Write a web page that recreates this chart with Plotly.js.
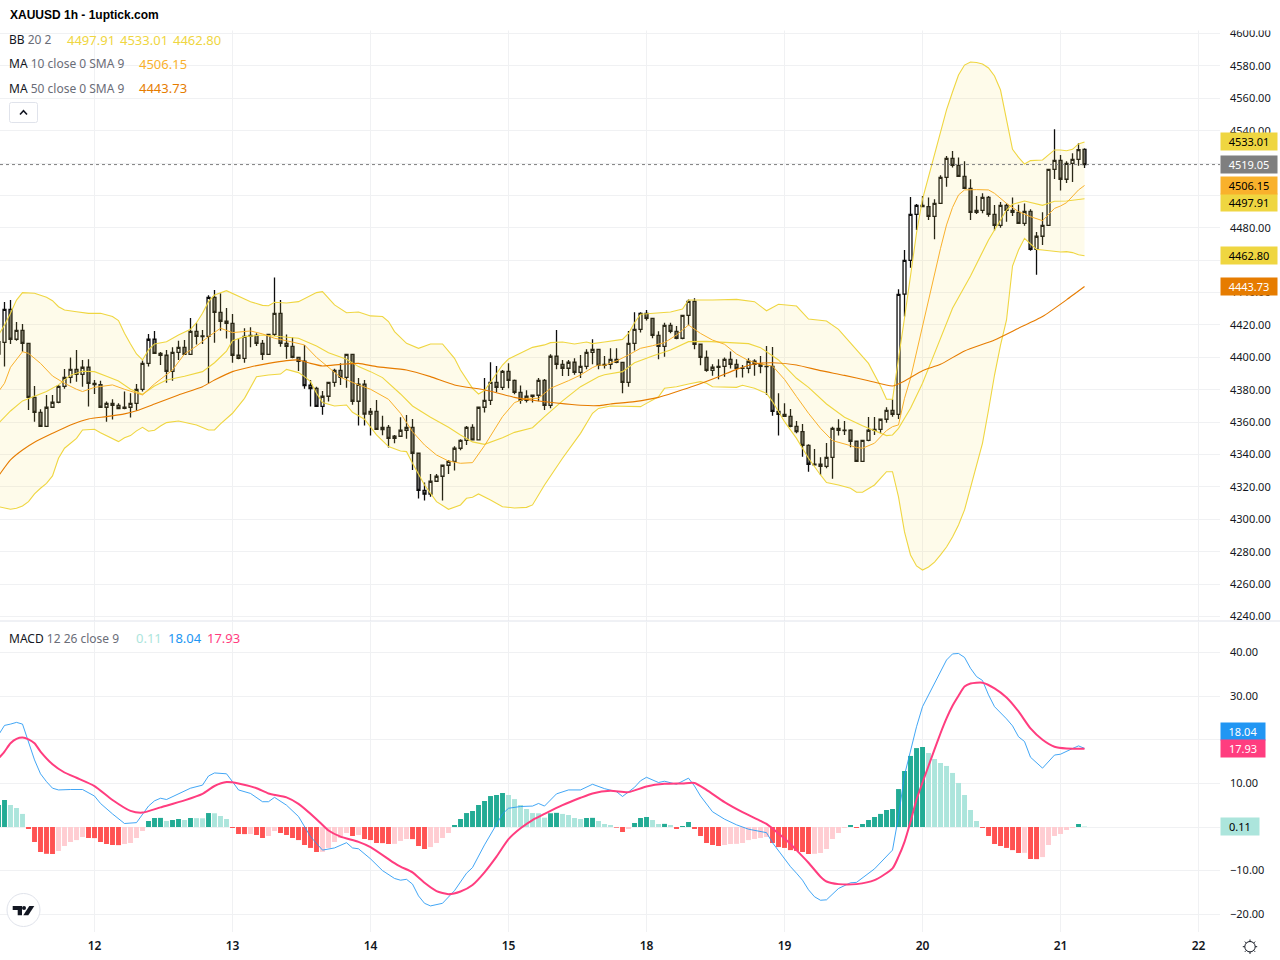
<!DOCTYPE html>
<html><head><meta charset="utf-8">
<script src="https://cdn.plot.ly/plotly-3.0.1.min.js"></script>
<style>html,body{margin:0;padding:0;background:#fff}#chart{width:1280px;height:960px}</style>
</head><body><div id="chart"></div>
<script>
// OHLC, hourly bars. Bar numbers run from -1 (first, partly hidden) to 180 (last).
const firstBar = -1;
const open = [4409.7,
4409.3,4429.7,4411.2,4416.7,4408.7,4375.3,4366.1,4357.4,4369.2,4372.3,
4382.1,4387.7,4392.6,4389.5,4393.9,4384.0,4383.2,4369.2,4371.6,4370.4,
4369.2,4369.2,4371.6,4380.3,4396.3,4411.2,4402.5,4401.3,4391.4,4403.1,
4406.2,4401.9,4416.1,4413.2,4413.0,4437.1,4427.8,4422.3,4421.0,4401.3,
4399.4,4413.6,4413.6,4408.7,4401.9,4414.2,4427.2,4408.7,4406.8,4400.0,
4397.6,4382.8,4380.9,4369.8,4376.0,4384.6,4392.0,4387.7,4401.9,4372.9,
4383.4,4364.9,4366.7,4355.4,4356.8,4350.0,4351.3,4355.0,4356.8,4340.8,
4317.9,4315.5,4323.5,4326.6,4333.4,4335.8,4343.9,4348.8,4356.8,4349.0,
4369.2,4373.5,4384.6,4381.5,4391.4,4385.8,4378.4,4373.5,4376.6,4376.6,
4385.8,4370.4,4400.7,4395.7,4393.3,4397.0,4390.8,4394.5,4403.1,4405.0,
4395.7,4395.7,4398.8,4396.9,4384.6,4408.7,4417.3,4427.2,4424.1,4413.6,
4406.8,4419.8,4416.1,4411.8,4426.0,4434.6,4408.1,4400.0,4392.0,4394.5,
4394.5,4398.8,4395.7,4393.4,4393.2,4397.6,4395.7,4394.5,4394.5,4366.7,
4364.8,4363.6,4357.4,4354.1,4345.7,4334.0,4334.0,4332.7,4338.3,4356.2,
4355.0,4355.0,4348.2,4335.8,4348.8,4355.6,4355.6,4361.8,4367.3,4364.8,
4439.1,4459.9,4488.3,4493.9,4493.1,4487.1,4495.1,4511.2,4522.9,4518.6,
4511.8,4504.4,4489.6,4490.8,4498.8,4488.3,4481.5,4493.9,4490.8,4489.6,
4482.8,4490.2,4466.7,4474.8,4481.5,4516.1,4521.7,4510.0,4519.8,4522.3,4528.5];
const high = [4413.0,
4434.2,4435.4,4421.9,4420.6,4408.7,4382.3,4367.9,4376.8,4376.8,4383.0,
4392.8,4400.0,4404.6,4398.4,4398.8,4386.0,4385.6,4372.7,4374.1,4371.6,
4378.9,4377.8,4383.6,4398.0,4414.5,4416.3,4403.3,4404.6,4406.2,4410.3,
4410.8,4424.3,4421.0,4416.9,4438.3,4441.6,4439.6,4430.5,4426.8,4411.8,
4418.0,4418.6,4414.9,4410.8,4414.2,4449.4,4435.4,4414.2,4412.4,4400.0,
4407.7,4386.0,4381.9,4379.3,4384.6,4393.0,4396.3,4401.9,4401.9,4387.3,
4386.0,4368.8,4373.7,4364.0,4358.3,4352.1,4363.0,4364.4,4362.0,4341.2,
4322.7,4328.0,4328.0,4333.4,4336.7,4345.1,4349.4,4357.6,4358.7,4369.2,
4387.3,4397.0,4394.7,4392.2,4396.3,4386.3,4382.6,4379.7,4376.8,4387.3,
4386.7,4401.9,4416.9,4398.4,4398.4,4399.4,4401.5,4405.0,4411.2,4405.0,
4400.9,4405.6,4405.6,4396.9,4416.3,4427.8,4427.8,4429.3,4424.1,4416.1,
4421.4,4421.4,4419.4,4426.0,4435.8,4436.5,4408.1,4404.2,4395.7,4398.8,
4400.0,4403.7,4398.8,4395.3,4399.4,4398.8,4400.9,4407.0,4406.4,4377.8,
4371.6,4368.1,4360.7,4358.9,4346.3,4343.4,4338.3,4347.1,4357.2,4361.8,
4360.7,4355.6,4348.2,4348.8,4363.2,4363.2,4361.8,4369.2,4374.1,4442.0,
4466.3,4499.0,4494.7,4499.6,4498.8,4497.6,4512.4,4524.4,4527.4,4523.5,
4521.1,4510.0,4499.6,4501.3,4499.6,4494.1,4495.9,4495.1,4498.8,4494.3,
4495.1,4491.4,4477.4,4489.6,4516.1,4540.8,4525.0,4521.1,4526.0,4532.2,4529.1];
const low = [4395.0,
4394.3,4408.3,4410.3,4403.5,4367.5,4360.3,4357.2,4357.2,4369.2,4371.6,
4380.7,4384.0,4385.0,4381.9,4369.6,4377.4,4369.2,4360.3,4361.6,4367.9,
4367.9,4362.8,4367.1,4378.9,4394.3,4402.1,4395.3,4384.4,4385.6,4398.4,
4401.5,4401.9,4407.9,4408.3,4384.0,4409.1,4416.5,4411.6,4396.7,4398.8,
4396.7,4406.2,4407.0,4398.4,4401.9,4413.2,4406.6,4399.2,4399.4,4391.6,
4380.7,4369.6,4369.6,4364.6,4372.7,4381.9,4383.0,4381.3,4370.8,4357.9,
4357.9,4351.7,4355.6,4351.9,4344.3,4346.9,4351.3,4349.8,4330.5,4312.8,
4311.6,4314.0,4323.5,4311.6,4328.0,4330.1,4342.6,4345.9,4348.6,4348.6,
4365.9,4370.6,4378.4,4379.9,4380.9,4377.2,4371.4,4372.1,4372.1,4372.9,
4367.5,4368.6,4392.6,4388.5,4388.5,4389.3,4387.3,4392.6,4395.7,4392.6,
4393.2,4392.6,4396.3,4377.8,4381.9,4404.2,4415.3,4422.7,4411.8,4398.8,
4400.4,4414.9,4411.2,4411.2,4419.8,4405.0,4395.1,4391.2,4388.7,4386.5,
4388.1,4393.2,4387.5,4387.5,4390.2,4388.7,4390.2,4376.8,4364.0,4351.7,
4363.4,4356.8,4353.1,4338.7,4329.4,4333.3,4327.4,4331.5,4325.1,4351.7,
4352.1,4344.5,4335.8,4335.8,4348.2,4352.1,4353.1,4359.7,4363.4,4362.0,
4425.2,4455.4,4478.7,4492.7,4484.8,4472.9,4495.1,4505.4,4517.2,4511.6,
4504.4,4484.8,4488.5,4489.0,4486.9,4478.3,4480.1,4483.8,4487.3,4482.4,
4481.3,4465.9,4451.1,4469.4,4481.5,4510.2,4503.0,4507.7,4508.3,4518.4,4517.0];
const close = [4402.1,
4429.7,4411.2,4416.7,4408.7,4375.3,4366.1,4357.4,4369.2,4372.3,4382.1,
4387.7,4392.6,4389.5,4393.9,4384.0,4383.2,4369.2,4371.6,4370.4,4368.3,
4368.6,4371.6,4380.3,4396.3,4411.2,4402.5,4401.3,4391.4,4403.1,4406.2,
4401.9,4416.1,4413.0,4412.8,4437.1,4427.8,4422.3,4421.0,4401.3,4399.4,
4413.0,4413.0,4408.7,4401.9,4414.2,4427.2,4408.7,4406.8,4400.0,4397.6,
4382.6,4380.7,4369.8,4376.0,4384.6,4392.0,4387.7,4401.9,4372.9,4383.4,
4364.9,4366.7,4355.6,4356.8,4350.0,4351.3,4355.0,4356.8,4340.8,4317.9,
4315.5,4323.5,4326.6,4333.4,4335.8,4343.9,4348.8,4356.8,4349.0,4369.2,
4373.5,4384.6,4381.5,4391.4,4385.8,4378.4,4373.5,4376.0,4376.0,4385.8,
4370.4,4400.7,4395.7,4393.3,4397.0,4390.8,4394.5,4403.1,4405.0,4395.1,
4395.1,4398.8,4396.9,4384.6,4408.7,4417.3,4427.2,4424.1,4413.6,4406.8,
4419.8,4416.1,4411.8,4426.0,4434.6,4408.1,4400.0,4392.0,4393.9,4393.9,
4398.8,4395.7,4393.2,4393.2,4397.6,4395.7,4394.5,4394.3,4366.7,4364.8,
4363.6,4357.4,4354.1,4345.7,4334.0,4333.6,4332.7,4338.3,4356.2,4355.0,
4354.8,4348.2,4335.8,4348.8,4355.0,4355.0,4361.8,4367.3,4364.8,4438.9,
4459.9,4488.3,4493.9,4493.1,4487.1,4495.1,4511.2,4522.9,4518.6,4511.8,
4504.4,4489.6,4490.8,4498.8,4488.3,4481.5,4493.9,4490.8,4489.6,4482.8,
4490.2,4466.7,4474.8,4481.5,4516.1,4521.7,4510.0,4519.8,4522.3,4528.3,4519.05];

// Bollinger upper band: bar numbers and prices read at those bars
const bbUpperBar = [-1,0,1,2,3,5,7,8,9,10,12,14,16,18,19,20,21,22,23,24,25,27,29,31,32,33,34,35,37,39,41,43,44,45,47,49,52,53,54,55,57,59,61,63,64,65,67,69,71,73,75,76,78,79,80,81,82,83,84,86,88,90,91,93,95,97,98,100,102,103,104,105,106,107,109,111,113,114,118,122,125,127,129,132,134,137,139,142,144,146,147,148,149,150,151,152,153,154,155,156,157,158,159,160,161,162,163,164,165,166,167,168,169,170,171,172,173,174,175,176,177,178,179,180];
const bbUpper = [4413.8,4420.0,4427.2,4435.4,4440.0,4439.6,4437.1,4435.0,4431.3,4429.3,4428.2,4427.2,4427.2,4425.2,4422.7,4414.9,4408.3,4402.1,4398.4,4404.6,4408.3,4409.7,4413.8,4417.3,4421.4,4427.2,4434.4,4438.5,4441.2,4437.9,4434.4,4432.1,4431.9,4434.0,4433.6,4434.4,4440.0,4440.6,4436.5,4432.4,4427.6,4428.0,4425.6,4425.2,4422.1,4415.9,4408.7,4405.6,4408.3,4408.3,4399.4,4392.2,4380.9,4377.4,4379.5,4385.0,4390.2,4395.3,4399.0,4402.5,4406.2,4407.7,4409.1,4409.5,4408.3,4409.5,4408.5,4409.5,4410.5,4411.1,4414.8,4421.4,4426.6,4426.8,4427.2,4428.0,4429.9,4435.4,4435.4,4435.8,4434.4,4428.8,4432.8,4431.7,4423.7,4422.5,4417.3,4405.0,4396.3,4382.3,4374.1,4374.1,4398.4,4424.3,4450.3,4476.8,4497.8,4511.4,4526.2,4539.8,4552.8,4563.9,4574.4,4580.5,4582.4,4582.1,4581.2,4578.7,4573.8,4565.1,4547.8,4528.5,4523.5,4519.4,4521.5,4521.7,4521.9,4525.0,4528.1,4528.1,4527.6,4528.5,4531.8,4533.01];
// Bollinger lower band
const bbLowerBar = [-1,0,1,2,3,4,5,6,7,8,9,10,12,13,15,16,18,19,20,21,22,23,24,25,26,27,29,31,32,34,35,36,38,40,42,44,46,47,49,50,51,52,53,55,57,58,60,62,64,66,67,68,70,72,74,76,77,78,79,81,83,85,87,88,90,93,96,98,99,101,103,106,107,109,110,112,114,116,117,118,122,123,125,127,128,130,132,134,136,137,139,141,142,143,145,147,148,149,150,151,152,153,154,155,156,157,158,159,160,161,162,163,164,165,166,167,168,169,170,171,172,173,174,175,176,177,178,179,180];
const bbLower = [4307.8,4307.0,4306.2,4306.8,4308.2,4310.9,4315.7,4319.2,4322.2,4326.8,4337.7,4343.9,4350.0,4355.2,4355.6,4353.5,4350.0,4348.0,4350.4,4351.7,4354.6,4356.8,4354.4,4355.0,4357.6,4359.7,4360.7,4359.3,4358.3,4355.2,4355.2,4358.9,4365.5,4374.7,4388.1,4389.1,4389.7,4392.6,4390.6,4388.1,4385.0,4377.8,4372.1,4370.0,4370.6,4366.1,4361.8,4352.1,4344.9,4342.2,4341.8,4334.6,4321.2,4310.9,4306.2,4308.9,4313.0,4313.6,4315.7,4311.9,4307.8,4307.0,4307.4,4308.9,4321.2,4337.7,4353.1,4365.5,4368.5,4370.0,4370.0,4369.6,4371.6,4375.7,4380.9,4381.9,4383.6,4385.0,4384.0,4381.9,4381.5,4382.8,4380.9,4377.8,4372.7,4360.3,4350.0,4337.7,4327.4,4322.7,4321.2,4319.2,4316.7,4316.7,4321.2,4329.4,4329.4,4313.8,4292.2,4278.0,4271.2,4268.7,4270.6,4273.6,4278.0,4282.9,4289.1,4296.5,4305.8,4319.3,4333.5,4347.1,4367.5,4389.1,4407.6,4423.1,4456.4,4466.3,4473.5,4470.0,4466.7,4466.3,4465.9,4465.3,4465.1,4465.3,4464.7,4463.4,4462.80];
// Bollinger basis
const bbBasisBar = [-1,1,3,5,7,9,11,13,15,17,19,21,23,25,27,30,33,35,37,38,40,43,46,49,52,54,57,59,61,63,66,68,71,74,76,78,80,83,85,88,90,93,96,99,100,103,105,108,111,114,117,121,124,126,129,132,134,137,140,143,146,147,148,149,151,153,155,158,161,164,167,168,170,173,175,177,180];
const bbBasis = [4359.3,4366.9,4373.1,4375.8,4378.9,4383.0,4389.0,4391.4,4391.2,4388.3,4385.4,4380.3,4377.2,4382.3,4386.0,4388.3,4391.2,4396.7,4403.9,4410.3,4412.8,4413.8,4413.0,4411.8,4407.0,4402.9,4398.8,4394.3,4391.2,4387.5,4377.4,4370.0,4363.0,4356.8,4352.1,4347.8,4346.3,4350.4,4353.7,4356.6,4363.4,4373.1,4381.9,4388.1,4389.3,4391.2,4396.7,4400.9,4404.6,4409.7,4409.9,4409.1,4408.5,4406.0,4398.4,4387.1,4381.5,4371.2,4363.0,4357.8,4353.5,4351.7,4352.1,4356.2,4368.6,4384.0,4402.5,4430.3,4450.3,4472.5,4491.0,4494.5,4496.6,4493.9,4496.4,4496.6,4497.91];
// MA 10
const ma10Bar = [-1,0,1,3,4,6,8,10,12,13,15,18,20,22,23,25,28,30,32,34,36,38,41,43,45,47,49,50,52,54,56,59,61,64,66,68,70,72,74,76,78,80,83,85,87,89,91,94,96,98,99,100,102,104,106,108,110,112,114,116,118,120,122,124,126,128,130,132,134,136,138,141,142,143,145,147,148,149,150,151,152,153,154,155,156,157,158,159,160,162,164,165,167,169,171,173,175,176,177,179,180];
const ma10 = [4378.9,4384.0,4393.9,4403.5,4402.5,4396.3,4388.5,4384.0,4380.3,4378.9,4381.5,4383.0,4380.3,4377.8,4376.8,4383.6,4392.2,4402.1,4407.0,4412.8,4418.0,4415.3,4416.3,4414.5,4411.8,4410.3,4408.7,4407.7,4400.0,4393.9,4387.7,4383.0,4380.3,4374.1,4365.5,4354.1,4345.9,4339.7,4336.0,4334.6,4335.0,4345.5,4363.4,4372.1,4374.7,4374.7,4380.9,4385.6,4389.1,4393.7,4395.3,4395.1,4397.8,4401.5,4405.6,4407.2,4409.1,4413.8,4420.0,4414.8,4410.7,4408.1,4402.1,4398.0,4395.9,4394.7,4386.4,4375.8,4365.5,4356.2,4348.6,4345.5,4344.3,4343.9,4347.0,4354.8,4357.2,4358.3,4374.7,4387.1,4403.5,4420.0,4436.5,4451.9,4467.3,4481.8,4492.6,4500.3,4503.4,4503.6,4503.4,4501.3,4495.1,4490.0,4486.9,4484.4,4492.0,4493.5,4495.5,4503.4,4506.15];
// MA 50
const ma50Bar = [-1,1,3,5,8,11,14,17,20,22,25,29,33,35,38,41,44,47,49,51,53,56,59,62,67,71,75,80,82,85,89,92,96,99,101,105,109,112,115,119,122,125,128,132,136,140,144,148,150,153,156,160,165,169,173,177,180];
const ma50 = [4326.8,4336.7,4342.8,4347.6,4353.1,4358.3,4362.0,4363.4,4365.1,4367.1,4371.2,4376.8,4381.9,4386.0,4391.2,4394.1,4396.3,4398.0,4398.4,4396.3,4394.7,4395.7,4396.3,4394.3,4392.2,4388.1,4383.0,4379.9,4378.2,4375.3,4373.1,4371.8,4370.4,4370.2,4371.2,4372.7,4375.3,4378.8,4382.5,4388.1,4392.6,4395.9,4396.7,4395.3,4391.8,4388.9,4385.6,4382.3,4385.4,4391.8,4395.7,4404.0,4410.8,4418.0,4425.2,4435.5,4443.73];

// MACD histogram, one value per bar
const macdHist = [5.05,
6.2,5.05,4.36,3.0,-0.46,-3.44,-5.73,-6.15,-6.2,-5.5,
-4.36,-3.44,-3.0,-2.3,-2.52,-2.55,-3.44,-3.9,-4.13,-4.16,
-3.9,-3.67,-2.52,-0.92,1.38,2.06,2.09,1.38,1.6,1.83,
1.6,2.06,2.03,2.0,3.2,3.15,2.52,1.83,-0.23,-1.6,
-1.63,-1.6,-1.83,-2.52,-2.06,-0.92,-1.38,-1.83,-2.52,-3.0,
-4.13,-4.8,-5.73,-5.7,-4.8,-3.44,-2.52,-1.38,-2.06,-1.83,
-2.75,-3.0,-3.67,-3.7,-3.9,-3.87,-3.2,-2.75,-2.78,-4.36,
-5.05,-4.6,-3.67,-2.52,-1.38,0.46,1.83,3.2,3.67,5.05,
5.96,7.1,7.34,7.8,7.34,6.4,5.05,4.13,3.2,3.15,
2.14,3.15,3.25,3.0,2.75,2.06,1.83,2.06,2.1,1.38,
0.69,0.46,-0.15,-1.15,-0.46,0.92,2.06,2.3,1.6,0.69,
0.72,0.46,-0.46,0.23,1.15,-0.46,-2.06,-3.67,-4.13,-4.36,
-4.13,-3.9,-3.87,-3.67,-3.0,-2.75,-2.52,-2.3,-3.67,-4.6,
-4.8,-5.3,-5.5,-5.73,-6.2,-6.15,-5.96,-5.05,-2.75,-1.38,
-0.23,0.46,-0.23,0.69,1.6,2.3,3.0,3.9,4.13,8.7,
12.84,16.3,18.1,18.35,16.97,15.6,14.68,14.0,12.4,10.1,
7.34,3.9,1.38,-0.23,-2.06,-3.9,-4.36,-4.8,-5.3,-5.96,
-5.93,-7.34,-7.37,-6.9,-4.13,-2.06,-1.6,-0.69,-0.23,0.69,0.11];
// MACD line
const macdBar = [-1,0,1,2,3,4,5,6,7,8,9,11,13,15,16,18,20,22,23,24,25,26,27,29,31,33,34,35,37,38,39,41,43,44,45,47,49,51,53,55,57,58,59,61,63,65,66,67,68,69,70,71,73,75,77,78,80,82,83,84,86,88,89,90,91,92,94,96,98,100,102,103,105,106,107,109,110,112,114,115,116,118,120,122,124,127,128,130,131,132,133,134,135,136,137,139,141,142,145,148,149,150,151,152,153,155,157,158,159,160,161,162,163,164,165,167,168,169,170,171,173,175,176,178,179,180];
const macdLine = [21.1,23.3,23.6,24.0,23.6,19.6,15.4,12.2,10.4,8.9,8.5,8.6,8.6,7.1,5.4,3.0,0.8,1.0,2.8,4.8,6.0,6.6,6.3,7.6,8.9,9.6,11.7,12.4,12.2,10.4,8.5,7.7,5.8,5.8,6.8,5.0,2.4,-2.2,-5.3,-4.8,-3.6,-4.8,-5.0,-7.3,-10.0,-11.8,-12.2,-12.0,-13.1,-15.8,-17.5,-18.1,-17.5,-14.6,-10.6,-9.3,-4.1,0.6,3.0,4.3,4.7,4.8,5.4,4.8,6.3,7.6,8.5,8.5,9.8,8.8,8.1,7.0,9.1,10.6,11.4,10.2,10.5,9.8,11.2,9.4,7.1,3.5,1.8,0.5,-0.5,-1.3,-3.6,-7.4,-9.1,-10.6,-12.2,-14.4,-16.0,-16.8,-16.7,-14.1,-12.8,-12.7,-9.6,-5.3,2.4,11.9,17.8,23.0,27.6,33.0,38.3,39.7,39.8,38.9,36.4,34.5,33.6,30.3,27.6,24.8,23.2,20.7,19.6,16.0,13.5,16.5,16.7,18.0,18.6,18.04];
// MACD signal
const macdSignalBar = [-1,0,1,2,3,4,5,6,8,10,12,15,18,21,23,26,30,33,35,37,39,42,44,47,49,52,54,56,59,61,65,66,68,70,72,74,76,78,80,82,84,86,88,90,93,96,98,101,104,107,110,113,115,117,120,123,126,127,129,131,132,134,136,137,139,142,145,148,149,150,151,152,153,155,156,157,158,159,160,161,163,165,167,169,171,173,175,177,180];
const macdSignal = [15.7,17.3,19.2,20.2,20.5,20.1,19.2,17.3,14.4,12.5,11.3,9.4,6.2,3.7,3.3,4.5,6.1,7.6,9.4,10.3,10.0,8.9,7.7,6.8,5.3,1.8,-0.8,-2.2,-3.4,-4.6,-8.3,-9.1,-10.4,-12.8,-14.7,-15.4,-14.8,-13.3,-10.4,-6.8,-2.8,-0.3,1.6,3.0,5.0,6.7,7.7,8.3,8.0,9.3,9.9,10.0,10.1,8.5,5.7,3.4,1.4,0.7,-1.5,-3.9,-5.3,-8.2,-11.4,-12.5,-13.1,-13.1,-12.2,-9.5,-6.8,-3.4,1.2,6.3,10.2,17.8,21.5,24.9,27.8,30.1,32.2,32.9,33.1,31.8,29.7,26.5,22.6,20.0,18.4,18.0,17.93];

// Axes
const dayBars = [15,38,61,84,107,130,153,176,199];
const dayLabels = ['12','13','14','15','18','19','20','21','22'];
const priceTicks = [4240,4260,4280,4300,4320,4340,4360,4380,4400,4420,4440,4460,4480,4500,4520,4540,4560,4580,4600];
const coveredPriceTicks = [4460,4500,4520];
const macdTicks = [-20,-10,0,10,20,30,40];
const macdTickLabels = ['\u221220.00','\u221210.00','','10.00','','30.00','40.00'];

const YELLOW='#efd641', ORANGE='#f9b12c', DEEP='#e67c00', BLUE='#2196f3', PINK='#ff3d7f';
const INK='#131722', MUTE='#6a6d78', GRID='#f0f1f3';
const font='"Noto Sans", sans-serif';
const barNo = open.map((_,i)=>i+firstBar);
const histColor = macdHist.map((v,i)=>{
  const prev = i ? macdHist[i-1] : v-1;
  if (v>=0) return v>prev ? '#22ab94' : '#ace5dc';
  return v<prev ? '#ff5252' : '#ffcdd2';
});
const ln=(x,y,color,width,name,extra)=>Object.assign({type:'scatter',mode:'lines',x,y,name,hoverinfo:'skip',xaxis:'x',yaxis:'y',line:{color,width}},extra||{});

const traces=[
 ln(bbLowerBar,bbLower,YELLOW,1.1,'BB lower'),
 ln(bbUpperBar,bbUpper,YELLOW,1.1,'BB upper',{fill:'tonexty',fillcolor:'rgba(244,222,90,0.13)'}),
 ln(bbBasisBar,bbBasis,YELLOW,1.1,'BB basis'),
 ln(ma10Bar,ma10,ORANGE,1,'MA 10'),
 ln(ma50Bar,ma50,DEEP,1.1,'MA 50',{line:{color:DEEP,width:1.1,shape:'spline',smoothing:0.5}}),
 {type:'candlestick',x:barNo,open,high,low,close,xaxis:'x',yaxis:'y',name:'XAUUSD',hoverinfo:'skip',whiskerwidth:0,
  increasing:{line:{color:'#0c0c0c',width:1.3},fillcolor:'#ffffff'},
  decreasing:{line:{color:'#0c0c0c',width:1.3},fillcolor:'#6b6b6b'}},
 {type:'bar',x:barNo,y:macdHist,xaxis:'x',yaxis:'y2',name:'Histogram',width:0.82,hoverinfo:'skip',marker:{color:histColor,line:{width:0}}},
 ln(macdBar,macdLine,BLUE,1,'MACD',{yaxis:'y2',opacity:0.85}),
 ln(macdSignalBar,macdSignal,PINK,2,'Signal',{yaxis:'y2',line:{color:PINK,width:2,shape:'spline',smoothing:0.6}})
];

const txt=(x,y,text,color,size,extra)=>Object.assign({xref:'paper',yref:'paper',x:(x-2)/1280,y:1-y/960,xanchor:'left',yanchor:'middle',showarrow:false,text,font:{family:font,size:size||13,color:color||INK}},extra||{});
const tag=(value,yref,text,bg,fg,width,yshift)=>({xref:'paper',yref,x:1220/1280,y:value,xanchor:'left',yanchor:'middle',showarrow:false,text,bgcolor:bg,width,height:17,align:'center',borderpad:0,yshift:yshift||0,font:{family:font,size:11,color:fg}});

const annotations=[
 {xref:'paper',yref:'paper',x:0,y:1,xanchor:'left',yanchor:'top',showarrow:false,text:' ',bgcolor:'#ffffff',width:1280,height:29,borderpad:0},
 txt(10,15.5,'<b>XAUUSD 1h - 1uptick.com</b>',INK,12,{font:{family:'"Liberation Sans", sans-serif',size:12,color:'#000'}}),
 txt(9,40,`BB <span style="color:${MUTE}">20 2</span>`,INK,12),
 txt(67,40,bbBasis[bbBasis.length-1].toFixed(2),YELLOW),
 txt(120,40,bbUpper[bbUpper.length-1].toFixed(2),YELLOW),
 txt(173,40,bbLower[bbLower.length-1].toFixed(2),YELLOW),
 txt(9,64,`MA <span style="color:${MUTE}">10 close 0 SMA 9</span>`,INK,12),
 txt(139,64,ma10[ma10.length-1].toFixed(2),ORANGE),
 txt(9,88,`MA <span style="color:${MUTE}">50 close 0 SMA 9</span>`,INK,12),
 txt(139,88,ma50[ma50.length-1].toFixed(2),DEEP),
 txt(9,638,`MACD <span style="color:${MUTE}">12 26 close 9</span>`,INK,12),
 txt(136,638,macdHist[macdHist.length-1].toFixed(2),'#ace5dc'),
 txt(168,638,macdLine[macdLine.length-1].toFixed(2),BLUE),
 txt(207,638,macdSignal[macdSignal.length-1].toFixed(2),PINK),
 tag(bbUpper[bbUpper.length-1],'y','4533.01',YELLOW,'#000',56),
 tag(close[close.length-1],'y','4519.05','#7f7f7f','#fff',56),
 tag(bbBasis[bbBasis.length-1],'y','4497.91',YELLOW,'#000',56,-3.5),
 tag(ma10[ma10.length-1],'y','4506.15',ORANGE,'#000',56),
 tag(bbLower[bbLower.length-1],'y','4462.80',YELLOW,'#000',56),
 tag(ma50[ma50.length-1],'y','4443.73',DEEP,'#fff',56),
 tag(macdLine[macdLine.length-1],'y2','18.04',BLUE,'#fff',44,17),
 tag(macdSignal[macdSignal.length-1],'y2','17.93',PINK,'#fff',44),
 tag(macdHist[macdHist.length-1],'y2','0.11','#ace5dc','#000',38)
];

const px=(xa,ya,path,extra)=>Object.assign({type:'path',xref:'paper',yref:'paper',xsizemode:'pixel',ysizemode:'pixel',xanchor:xa/1280,yanchor:1-ya/960,path,layer:'above',line:{width:0}},extra||{});
const disc=(xa,ya,cx,cy,r,extra)=>Object.assign({type:'circle',xref:'paper',yref:'paper',xsizemode:'pixel',ysizemode:'pixel',xanchor:xa/1280,yanchor:1-ya/960,x0:cx-r,x1:cx+r,y0:cy-r,y1:cy+r,layer:'above',line:{width:0}},extra||{});
const shapes=[
 {type:'line',xref:'paper',yref:'y',x0:0,x1:1220/1280,y0:close[close.length-1],y1:close[close.length-1],line:{color:'#7f7f7f',width:1,dash:'dot'}},
 {type:'line',xref:'paper',yref:'paper',x0:0,x1:1,y0:1-621/960,y1:1-621/960,line:{color:'#e0e3eb',width:1}},
 px(23.5,112.5,'M-12,10 L12,10 Q14,10 14,8 L14,-8 Q14,-10 12,-10 L-12,-10 Q-14,-10 -14,-8 L-14,8 Q-14,10 -12,10 Z',{fillcolor:'#fff',line:{color:'#e0e3eb',width:1}}),
 px(23.5,112.5,'M-3.5,-2 L0,1.8 L3.5,-2',{fillcolor:'rgba(0,0,0,0)',line:{color:INK,width:1.6}}),
 disc(23.5,910,0,0,16.5,{fillcolor:'#fff',line:{color:'#e0e3eb',width:1}}),
 px(23.5,910,'M-10.8,4 L-1.5,4 L-1.5,-5.3 L-5.8,-5.3 L-5.8,0 L-10.8,0 Z',{fillcolor:'#131722'}),
 disc(23.5,910,0.5,2,2,{fillcolor:'#131722'}),
 px(23.5,910,'M5.8,4 L10.8,4 L4.8,-5.3 L-0.2,-5.3 Z',{fillcolor:'#131722'}),
 disc(1250,946.7,0,0,5.2,{fillcolor:'#fff',line:{color:INK,width:1}}),
 px(1250,946.7,'M0,5.2 L0,7.2 M0,-5.2 L0,-7.2 M5.2,0 L7.2,0 M-5.2,0 L-7.2,0 M3.7,3.7 L5.1,5.1 M-3.7,3.7 L-5.1,5.1 M3.7,-3.7 L5.1,-5.1 M-3.7,-3.7 L-5.1,-5.1',{fillcolor:'rgba(0,0,0,0)',line:{color:INK,width:1}})
];

const layout={
 width:1280,height:960,margin:{l:0,r:0,t:0,b:0},paper_bgcolor:'#fff',plot_bgcolor:'#fff',showlegend:false,dragmode:false,hovermode:false,
 font:{family:font,color:INK,size:11},
 xaxis:{domain:[0,1220/1280],range:[-0.75,202.58],anchor:'y2',tickmode:'array',tickvals:dayBars,ticktext:dayLabels,showgrid:true,gridcolor:GRID,gridwidth:1,zeroline:false,showline:false,ticks:'',tickfont:{family:font,size:12,color:INK,weight:600},rangeslider:{visible:false},ticklabelstandoff:5},
 yaxis:{domain:[1-621/960,1-30/960],range:[4600-(621-33.5)/1.6194,4600+3.5/1.6194],side:'right',anchor:'x',tickmode:'array',tickvals:priceTicks,ticktext:priceTicks.map(v=>coveredPriceTicks.includes(v)?'':v.toFixed(2)),showgrid:true,gridcolor:GRID,zeroline:false,showline:false,ticks:'',tickfont:{family:font,size:11,color:INK},ticklabelstandoff:9},
 yaxis2:{domain:[1-932/960,1-622/960],range:[(827-932)/4.36,(827-622)/4.36],side:'right',anchor:'x',tickmode:'array',tickvals:macdTicks,ticktext:macdTickLabels,showgrid:true,gridcolor:GRID,zeroline:false,showline:false,ticks:'',tickfont:{family:font,size:11,color:INK},ticklabelstandoff:9},
 annotations,shapes
};
Plotly.newPlot('chart',traces,layout,{displayModeBar:false,staticPlot:true,responsive:false});
</script></body></html>
